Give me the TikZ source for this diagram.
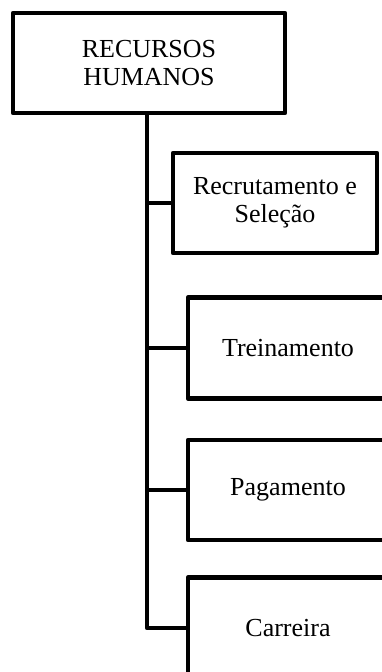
\documentclass[tikz,border=0pt]{standalone}
\usepackage{fontspec}
\setmainfont{Liberation Serif}
\usepackage{xcolor}
\usepackage{tikz}

\tikzset{
    area/.style={draw, line width=4.5pt, line join=round, align=center, inner sep=0pt,
        font=\fontsize{26}{28}\selectfont},
    link/.style={line width=4.5pt, line join=round}
}

\begin{document}
\begin{tikzpicture}[x=1pt, y=1pt]
    \clip (0,0) rectangle (382,-672);
    \node[area, minimum width=272, minimum height=100] at (149, -63) (rh) {RECURSOS\\HUMANOS};
    \node[area, minimum width=204, minimum height=100] at (275, -203) (rec) {Recrutamento e\\Seleção};
    \node[area, minimum width=200, minimum height=101] at (288, -348) (trei) {Treinamento};
    \node[area, minimum width=200, minimum height=100] at (288, -490) (pag) {Pagamento};
    \node[area, minimum width=200, minimum height=101] at (288, -628) (car) {Carreira};
    \coordinate (tronco) at ([xshift=-2pt]rh.south);
    \draw [link] (tronco) |- (car.west);
    \foreach \n in {rec, trei, pag}
        \draw [link] (\n.west) -- (\n.west -| tronco);
\end{tikzpicture}
\end{document}
